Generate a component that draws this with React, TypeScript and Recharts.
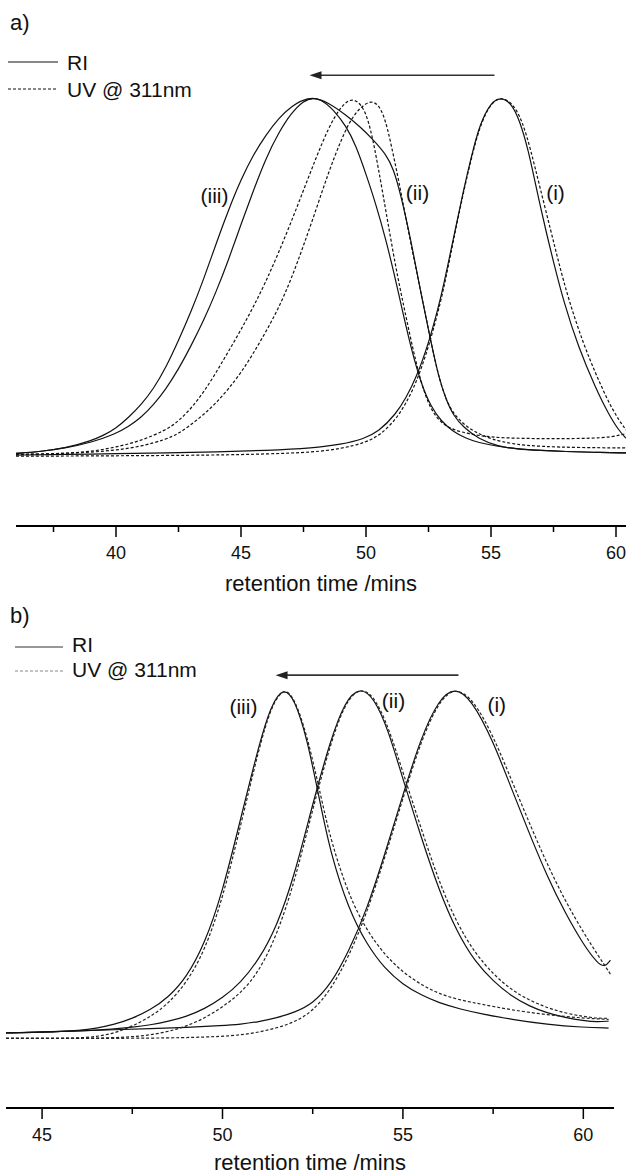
import React from 'react';
import { LineChart, Line, XAxis, YAxis, ReferenceLine, ReferenceDot } from 'recharts';

type Pt = [number, number];

const FONT = '"Liberation Sans", Arial, Helvetica, sans-serif';

// ---------- Panel a ----------
const A_TICKS = [37.5, 40, 42.5, 45, 47.5, 50, 52.5, 55, 57.5, 60];
const A_X_DOMAIN: [number, number] = [36, 60.4];
const A_Y_DOMAIN: [number, number] = [-0.198, 1.249];

const aRI3: Pt[] = [[36.0,0.005],[37.0,0.01],[38.0,0.02],[39.0,0.04],[39.5,0.055],[40.0,0.075],[40.5,0.105],[41.0,0.14],[41.5,0.185],[42.0,0.245],[42.5,0.32],[43.0,0.4],[43.5,0.49],[44.0,0.59],[44.5,0.685],[45.0,0.77],[45.5,0.84],[46.0,0.895],[46.5,0.94],[47.0,0.975],[47.7,1.0],[48.2,0.995],[48.7,0.965],[49.2,0.92],[49.6,0.865],[50.0,0.785],[50.4,0.7],[50.8,0.6],[51.1,0.515],[51.5,0.39],[51.8,0.3],[52.2,0.2],[52.6,0.135],[53.0,0.095],[53.5,0.065],[54.0,0.047],[54.5,0.035],[55.2,0.025],[56.0,0.018],[57.0,0.013],[58.0,0.01],[59.0,0.008],[60.4,0.006]];
const aRI2: Pt[] = [[36.0,0.005],[37.0,0.01],[38.0,0.02],[39.0,0.035],[40.0,0.06],[40.5,0.08],[41.0,0.105],[41.5,0.14],[42.0,0.185],[42.5,0.24],[43.0,0.305],[43.5,0.375],[44.0,0.455],[44.5,0.545],[45.0,0.645],[45.5,0.74],[46.0,0.83],[46.5,0.9],[47.0,0.955],[47.5,0.99],[47.9,1.0],[48.5,0.985],[49.2,0.95],[49.8,0.915],[50.3,0.88],[50.8,0.84],[51.1,0.8],[51.4,0.725],[51.8,0.6],[52.2,0.45],[52.6,0.315],[52.9,0.22],[53.2,0.155],[53.5,0.11],[53.9,0.078],[54.5,0.045],[55.3,0.024],[56.0,0.017],[57.0,0.013],[58.0,0.01],[59.0,0.008],[60.4,0.006]];
const aRI1: Pt[] = [[36.0,0.0],[38.0,0.002],[40.0,0.004],[42.0,0.006],[44.0,0.009],[46.0,0.013],[47.9,0.02],[49.0,0.03],[49.9,0.045],[50.5,0.065],[51.2,0.115],[51.6,0.16],[52.0,0.215],[52.5,0.31],[53.0,0.44],[53.3,0.54],[53.6,0.64],[53.9,0.74],[54.2,0.83],[54.55,0.925],[55.0,0.985],[55.37,1.0],[55.8,0.985],[56.15,0.935],[56.5,0.85],[56.8,0.75],[57.2,0.625],[57.5,0.54],[57.9,0.43],[58.5,0.3],[59.2,0.185],[59.7,0.115],[60.1,0.07],[60.4,0.047]];
const aUV3: Pt[] = [[36.0,0.002],[37.0,0.003],[38.0,0.005],[39.0,0.01],[40.0,0.022],[41.0,0.04],[42.0,0.07],[42.5,0.095],[43.0,0.13],[43.5,0.175],[44.0,0.23],[44.5,0.29],[45.0,0.35],[45.5,0.415],[46.0,0.485],[46.5,0.565],[47.0,0.65],[47.5,0.74],[48.0,0.83],[48.5,0.915],[49.0,0.975],[49.45,1.0],[49.9,0.975],[50.2,0.91],[50.5,0.8],[50.8,0.68],[51.2,0.52],[51.5,0.42],[51.8,0.32],[52.2,0.2],[52.6,0.125],[53.0,0.09],[53.5,0.07],[54.2,0.058],[55.0,0.05],[56.0,0.047],[57.0,0.046],[58.0,0.046],[59.0,0.047],[59.8,0.05],[60.4,0.06]];
const aUV2: Pt[] = [[36.0,0.002],[37.0,0.003],[38.0,0.005],[39.0,0.008],[40.0,0.014],[41.0,0.024],[42.0,0.044],[42.5,0.06],[43.0,0.085],[43.5,0.113],[44.0,0.145],[44.5,0.185],[45.0,0.23],[45.5,0.285],[46.0,0.345],[46.5,0.41],[47.0,0.49],[47.5,0.585],[48.0,0.685],[48.5,0.79],[49.0,0.88],[49.5,0.955],[50.25,1.0],[50.7,0.96],[51.0,0.87],[51.3,0.77],[51.6,0.66],[52.0,0.52],[52.3,0.42],[52.6,0.315],[52.9,0.22],[53.2,0.155],[53.5,0.115],[54.0,0.08],[54.5,0.06],[55.0,0.045],[55.9,0.03],[57.0,0.024],[58.5,0.021],[60.4,0.02]];
const aUV1: Pt[] = [[36.0,-0.003],[40.0,-0.002],[44.0,0.0],[46.0,0.003],[47.9,0.008],[49.0,0.018],[50.0,0.035],[50.6,0.058],[51.2,0.1],[51.6,0.145],[52.0,0.2],[52.5,0.3],[53.0,0.43],[53.3,0.53],[53.6,0.635],[53.9,0.735],[54.2,0.825],[54.55,0.92],[55.0,0.985],[55.4,1.0],[55.85,0.985],[56.25,0.935],[56.6,0.85],[56.95,0.75],[57.4,0.625],[57.7,0.54],[58.1,0.435],[58.7,0.31],[59.2,0.225],[59.85,0.125],[60.4,0.07]];

const A_ARROW = { from: 55.14, to: 47.74, level: 1.061 };
const A_LABELS: { t: number; v: number; text: string }[] = [
  { t: 43.94, v: 0.726, text: '(iii)' },
  { t: 52.06, v: 0.735, text: '(ii)' },
  { t: 57.58, v: 0.735, text: '(i)' },
];

// ---------- Panel b ----------
const B_TICKS = [45, 47.5, 50, 52.5, 55, 57.5, 60];
const B_X_DOMAIN: [number, number] = [44, 60.85];
const B_Y_DOMAIN: [number, number] = [-0.2098, 1.25];

const bRI3: Pt[] = [[44.0,0.006],[44.5,0.007],[45.0,0.008],[45.5,0.01],[46.0,0.013],[46.5,0.019],[47.0,0.03],[47.5,0.047],[48.0,0.072],[48.5,0.108],[49.0,0.165],[49.5,0.26],[50.0,0.41],[50.5,0.62],[51.0,0.83],[51.35,0.95],[51.7,1.0],[52.0,0.965],[52.35,0.85],[52.7,0.67],[53.0,0.52],[53.5,0.36],[54.0,0.26],[54.5,0.19],[55.0,0.145],[55.5,0.115],[56.0,0.092],[56.6,0.074],[57.2,0.06],[58.0,0.045],[59.0,0.03],[60.0,0.022],[60.7,0.02]];
const bUV3: Pt[] = [[44.0,-0.01],[45.0,-0.01],[46.0,-0.009],[46.5,-0.005],[47.0,0.005],[47.5,0.025],[48.0,0.052],[48.5,0.09],[49.0,0.15],[49.5,0.24],[50.0,0.39],[50.5,0.6],[51.0,0.82],[51.35,0.945],[51.7,1.0],[52.0,0.968],[52.35,0.86],[52.75,0.675],[53.0,0.56],[53.5,0.4],[54.0,0.3],[54.5,0.23],[55.0,0.18],[55.5,0.145],[56.0,0.118],[56.6,0.1],[57.2,0.088],[58.0,0.072],[59.0,0.058],[60.0,0.048],[60.7,0.045]];
const bRI2: Pt[] = [[44.0,0.006],[45.0,0.008],[46.0,0.011],[47.0,0.017],[47.5,0.022],[48.0,0.029],[48.5,0.039],[49.0,0.053],[49.5,0.075],[50.0,0.106],[50.5,0.15],[51.0,0.215],[51.5,0.31],[52.0,0.46],[52.5,0.665],[53.0,0.85],[53.4,0.96],[53.8,1.0],[54.2,0.97],[54.6,0.875],[55.0,0.735],[55.5,0.57],[56.0,0.415],[56.5,0.295],[57.0,0.21],[57.5,0.155],[58.0,0.112],[58.5,0.083],[59.0,0.063],[59.5,0.05],[60.0,0.041],[60.4,0.037],[60.7,0.04]];
const bUV2: Pt[] = [[44.0,-0.01],[46.0,-0.01],[47.0,-0.008],[47.5,-0.005],[48.0,0.0],[48.5,0.01],[49.0,0.025],[49.5,0.048],[50.0,0.08],[50.5,0.12],[51.0,0.18],[51.5,0.285],[52.0,0.44],[52.5,0.65],[53.0,0.84],[53.4,0.955],[53.8,1.0],[54.2,0.975],[54.6,0.885],[55.0,0.755],[55.5,0.595],[56.0,0.44],[56.5,0.32],[57.0,0.235],[57.5,0.175],[58.0,0.13],[58.5,0.1],[59.0,0.078],[59.5,0.063],[60.0,0.053],[60.4,0.048],[60.7,0.048]];
const bRI1: Pt[] = [[44.0,0.006],[45.0,0.009],[46.0,0.012],[47.0,0.015],[48.0,0.018],[49.0,0.022],[50.0,0.027],[50.5,0.031],[51.0,0.038],[51.5,0.049],[52.0,0.065],[52.5,0.09],[53.0,0.145],[53.5,0.24],[54.0,0.36],[54.5,0.52],[55.0,0.69],[55.5,0.855],[56.0,0.965],[56.43,1.0],[56.9,0.965],[57.5,0.845],[58.0,0.71],[58.5,0.58],[59.0,0.455],[59.5,0.35],[60.0,0.26],[60.4,0.205],[60.6,0.195],[60.75,0.215]];
const bUV1: Pt[] = [[44.0,-0.01],[47.0,-0.01],[49.0,-0.008],[50.0,-0.004],[50.5,0.0],[51.0,0.008],[51.5,0.02],[52.0,0.037],[52.5,0.068],[53.0,0.13],[53.5,0.225],[54.0,0.35],[54.5,0.51],[55.0,0.68],[55.5,0.845],[56.0,0.96],[56.45,1.0],[56.95,0.965],[57.5,0.86],[58.0,0.735],[58.5,0.61],[59.0,0.49],[59.5,0.385],[60.0,0.295],[60.4,0.23],[60.75,0.175]];

const B_ARROW = { from: 56.54, to: 51.47, level: 1.034 };
const B_LABELS: { t: number; v: number; text: string }[] = [
  { t: 50.58, v: 0.945, text: '(iii)' },
  { t: 54.74, v: 0.96, text: '(ii)' },
  { t: 57.6, v: 0.951, text: '(i)' },
];

const toData = (pts: Pt[]) => pts.map(([t, v]) => ({ t, v }));

const renderTick = (props: any) => {
  const { x, y, payload } = props;
  const val = payload.value as number;
  const major = Math.abs(val % 5) < 1e-9;
  return (
    <g>
      <line x1={x} x2={x} y1={y} y2={y + (major ? 11 : 6)} stroke="#000" strokeWidth={1.5} />
      {major && (
        <text x={x} y={y + 33} textAnchor="middle" fontSize={18} fontFamily={FONT} fill="#111">
          {val}
        </text>
      )}
    </g>
  );
};

const arrowShape = (p: any) => {
  const { x1, y1, x2, y2 } = p;
  const head = 12;
  return (
    <g>
      <line x1={x1} y1={y1} x2={x2 + head - 1} y2={y2} stroke="#333" strokeWidth={1.6} />
      <polygon points={`${x2},${y2} ${x2 + head},${y2 - 4} ${x2 + head},${y2 + 4}`} fill="#222" />
    </g>
  );
};

const labelShape = (text: string) => (p: any) => (
  <text x={p.cx} y={p.cy} textAnchor="middle" dominantBaseline="central" fontSize={21} fontFamily={FONT} fill="#111">
    {text}
  </text>
);

type Series = { key: string; pts: Pt[]; dashed: boolean };

const A_SERIES: Series[] = [
  { key: 'aRI3', pts: aRI3, dashed: false },
  { key: 'aRI2', pts: aRI2, dashed: false },
  { key: 'aRI1', pts: aRI1, dashed: false },
  { key: 'aUV3', pts: aUV3, dashed: true },
  { key: 'aUV2', pts: aUV2, dashed: true },
  { key: 'aUV1', pts: aUV1, dashed: true },
];
const B_SERIES: Series[] = [
  { key: 'bRI3', pts: bRI3, dashed: false },
  { key: 'bRI2', pts: bRI2, dashed: false },
  { key: 'bRI1', pts: bRI1, dashed: false },
  { key: 'bUV3', pts: bUV3, dashed: true },
  { key: 'bUV2', pts: bUV2, dashed: true },
  { key: 'bUV1', pts: bUV1, dashed: true },
];

function Panel(props: {
  height: number;
  margin: { top: number; right: number; bottom: number; left: number };
  xDomain: [number, number];
  yDomain: [number, number];
  ticks: number[];
  axisHeight: number;
  titleOffset: number;
  series: Series[];
  arrow: { from: number; to: number; level: number };
  labels: { t: number; v: number; text: string }[];
  dashColor: string;
}) {
  return (
    <LineChart width={626} height={props.height} margin={props.margin}>
      <XAxis
        type="number"
        dataKey="t"
        domain={props.xDomain}
        allowDataOverflow
        ticks={props.ticks}
        interval={0}
        tickSize={0}
        tickMargin={0}
        tickLine={false}
        axisLine={{ stroke: '#000', strokeWidth: 2 }}
        tick={renderTick}
        height={props.axisHeight}
        label={{
          value: 'retention time /mins',
          position: 'insideBottom',
          offset: props.titleOffset,
          fontSize: 22,
          fill: '#111',
          fontFamily: FONT,
        }}
      />
      <YAxis type="number" hide domain={props.yDomain} allowDataOverflow />
      {props.series.map((s) => (
        <Line
          key={s.key}
          data={toData(s.pts)}
          dataKey="v"
          type="basis"
          dot={false}
          activeDot={false}
          stroke={s.dashed ? props.dashColor : '#111'}
          strokeWidth={1.2}
          strokeDasharray={s.dashed ? '3 2' : undefined}
          isAnimationActive={false}
        />
      ))}
      <ReferenceLine
        segment={[
          { x: props.arrow.from, y: props.arrow.level },
          { x: props.arrow.to, y: props.arrow.level },
        ]}
        shape={arrowShape}
      />
      {props.labels.map((l) => (
        <ReferenceDot key={l.text} x={l.t} y={l.v} r={1} shape={labelShape(l.text)} />
      ))}
    </LineChart>
  );
}

function Overlay() {
  const txt = { fontFamily: FONT, fill: '#111' } as const;
  return (
    <svg width={626} height={1174} style={{ position: 'absolute', left: 0, top: 0, pointerEvents: 'none' }}>
      <text x={10} y={30} fontSize={22} {...txt}>a)</text>
      <line x1={8} x2={58} y1={62} y2={62} stroke="#111" strokeWidth={1.2} />
      <text x={67} y={70} fontSize={21} {...txt}>RI</text>
      <line x1={8} x2={56} y1={89} y2={89} stroke="#111" strokeWidth={1.2} strokeDasharray="3 2" />
      <text x={67} y={97} fontSize={21} {...txt}>UV @ 311nm</text>

      <text x={10} y={623} fontSize={22} {...txt}>b)</text>
      <line x1={15} x2={63} y1={647} y2={647} stroke="#333" strokeWidth={1} />
      <text x={72} y={652} fontSize={21} {...txt}>RI</text>
      <line x1={15} x2={63} y1={671} y2={671} stroke="#888" strokeWidth={1} strokeDasharray="3 2" />
      <text x={72} y={677} fontSize={21} {...txt}>UV @ 311nm</text>
    </svg>
  );
}

export default function App() {
  return (
    <div style={{ position: 'absolute', left: 0, top: 0, width: 626, height: 1174, background: '#fff', overflow: 'hidden' }}>
      <div style={{ position: 'absolute', left: 0, top: 0 }}>
        <Panel
          height={600}
          margin={{ top: 8, right: 0, bottom: 0, left: 16 }}
          xDomain={A_X_DOMAIN}
          yDomain={A_Y_DOMAIN}
          ticks={A_TICKS}
          axisHeight={74}
          titleOffset={9}
          series={A_SERIES}
          arrow={A_ARROW}
          labels={A_LABELS}
          dashColor="#111"
        />
      </div>
      <div style={{ position: 'absolute', left: 0, top: 600 }}>
        <Panel
          height={574}
          margin={{ top: 0, right: 12, bottom: 0, left: 6 }}
          xDomain={B_X_DOMAIN}
          yDomain={B_Y_DOMAIN}
          ticks={B_TICKS}
          axisHeight={66}
          titleOffset={4}
          series={B_SERIES}
          arrow={B_ARROW}
          labels={B_LABELS}
          dashColor="#222"
        />
      </div>
      <Overlay />
    </div>
  );
}
